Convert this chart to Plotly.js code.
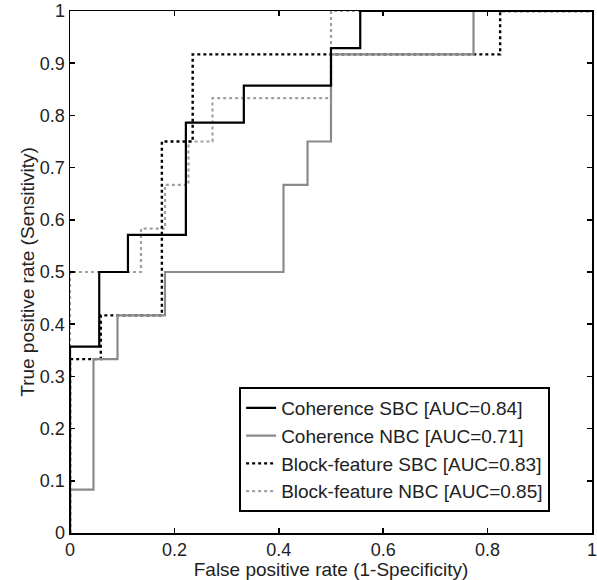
<!DOCTYPE html>
<html>
<head>
<meta charset="utf-8">
<script src="https://cdn.plot.ly/plotly-3.0.1.min.js"></script>
<style>
  html, body { margin: 0; padding: 0; background: #fff; }
  #chart { width: 597px; height: 580px; }
</style>
</head>
<body>
<div id="chart"></div>
<script>
// ROC corner points (false positive rate, true positive rate), drawn as steps
const seriesNames = [
  'Coherence SBC [AUC=0.84]',
  'Coherence NBC [AUC=0.71]',
  'Block-feature SBC [AUC=0.83]',
  'Block-feature NBC [AUC=0.85]'
];
const cohSbcFpr = [0, 0, 0.056, 0.111, 0.222, 0.333, 0.5, 0.556, 1];
const cohSbcTpr = [0, 0.357, 0.5, 0.571, 0.786, 0.857, 0.929, 1, 1];
const cohNbcFpr = [0, 0, 0.045, 0.091, 0.182, 0.409, 0.455, 0.5, 0.773, 1];
const cohNbcTpr = [0, 0.083, 0.333, 0.417, 0.5, 0.667, 0.75, 0.917, 1, 1];
const blkSbcFpr = [0, 0, 0.059, 0.176, 0.235, 0.824, 1];
const blkSbcTpr = [0, 0.333, 0.417, 0.75, 0.917, 1, 1];
const blkNbcFpr = [0, 0, 0.136, 0.182, 0.227, 0.273, 0.5, 1];
const blkNbcTpr = [0, 0.5, 0.583, 0.667, 0.75, 0.833, 1, 1];

const xTicks = [0, 0.2, 0.4, 0.6, 0.8, 1];
const yTicks = [0, 0.1, 0.2, 0.3, 0.4, 0.5, 0.6, 0.7, 0.8, 0.9, 1];

const FONT = 'Liberation Sans, Arial, Helvetica, sans-serif';

const traces = [
  {x: blkNbcFpr, y: blkNbcTpr, name: seriesNames[3], mode: 'lines',
   line: {shape: 'hv', color: '#a0a0a0', width: 2.2, dash: 'dot'}},
  {x: blkSbcFpr, y: blkSbcTpr, name: seriesNames[2], mode: 'lines',
   line: {shape: 'hv', color: '#000000', width: 2.4, dash: 'dot'}},
  {x: cohNbcFpr, y: cohNbcTpr, name: seriesNames[1], mode: 'lines',
   line: {shape: 'hv', color: '#8a8a8a', width: 2.2}},
  {x: cohSbcFpr, y: cohSbcTpr, name: seriesNames[0], mode: 'lines',
   line: {shape: 'hv', color: '#000000', width: 2.2}}
];

const axisCommon = {
  range: [0, 1],
  showgrid: false,
  zeroline: false,
  showline: true,
  linecolor: '#000',
  linewidth: 1.5,
  mirror: 'ticks',
  ticks: 'inside',
  ticklen: 5,
  tickwidth: 1.5,
  tickcolor: '#000',
  ticklabeloverflow: 'allow',
  tickfont: {family: FONT, size: 18, color: '#222'},
  fixedrange: true
};

const layout = {
  width: 597,
  height: 580,
  margin: {l: 70, r: 5, t: 11, b: 47},
  paper_bgcolor: '#fff',
  plot_bgcolor: '#fff',
  showlegend: true,
  legend: {
    traceorder: 'reversed',
    x: 0.324, y: 0.04, xanchor: 'left', yanchor: 'bottom',
    bordercolor: '#000', borderwidth: 2, bgcolor: '#fff',
    font: {family: FONT, size: 19, color: '#222'},
    entrywidth: 285, entrywidthmode: 'pixels',
    tracegroupgap: 0
  },
  xaxis: Object.assign({}, axisCommon, {
    tickvals: xTicks,
    ticktext: xTicks.map(String),
    title: {text: 'False positive rate (1-Specificity)', font: {family: FONT, size: 19, color: '#222'}, standoff: 0}
  }),
  yaxis: Object.assign({}, axisCommon, {
    tickvals: yTicks,
    ticktext: yTicks.map(String),
    title: {text: 'True positive rate (Sensitivity)', font: {family: FONT, size: 19, color: '#222'}, standoff: 0}
  })
};

Plotly.newPlot('chart', traces, layout, {staticPlot: true, displayModeBar: false});
</script>
</body>
</html>
